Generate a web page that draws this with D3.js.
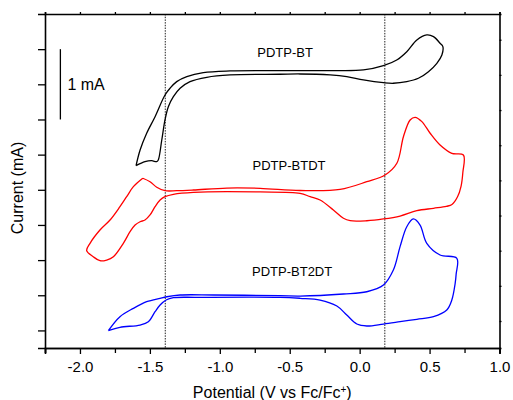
<!DOCTYPE html>
<html><head><meta charset="utf-8">
<script src="https://cdn.jsdelivr.net/npm/d3@7"></script>
<style>
html,body{margin:0;padding:0;background:#fff;}
text{font-family:Arial,"Liberation Sans",sans-serif;fill:#000;}
</style></head>
<body>
<svg id="chart" width="513" height="400"></svg>
<script>
// Potential (V vs Fc/Fc+) and current (mA, offset) for each cyclic voltammogram
const btV = [-1.599,-1.570,-1.523,-1.463,-1.392,-1.356,-1.308,-1.236,-1.118,-0.927,-0.569,-0.211,0.027,0.170,0.265,0.337,0.409,0.480,0.528,0.575,0.595,0.588,0.552,0.492,0.420,0.337,0.241,0.170,0.027,-0.092,-0.211,-0.426,-0.569,-0.927,-1.093,-1.213,-1.284,-1.332,-1.368,-1.392,-1.415,-1.440,-1.451,-1.487,-1.535,-1.599];
const btI = [2.343,2.566,2.804,3.040,3.348,3.444,3.538,3.609,3.666,3.690,3.694,3.695,3.704,3.765,3.846,3.964,4.131,4.202,4.178,4.084,4.036,3.917,3.799,3.680,3.586,3.538,3.515,3.523,3.562,3.609,3.633,3.647,3.643,3.633,3.600,3.538,3.444,3.324,3.182,2.993,2.708,2.424,2.400,2.414,2.400,2.343];

const btdtV = [-1.551,-1.499,-1.451,-1.392,-1.308,-1.189,-0.950,-0.712,-0.426,-0.140,0.051,0.182,0.266,0.313,0.361,0.397,0.445,0.504,0.575,0.659,0.742,0.738,0.725,0.700,0.660,0.620,0.528,0.409,0.289,0.170,0.051,-0.068,-0.116,-0.188,-0.283,-0.354,-0.426,-0.712,-1.189,-1.332,-1.392,-1.427,-1.463,-1.499,-1.535,-1.570,-1.606,-1.642,-1.690,-1.761,-1.809,-1.857,-1.905,-1.952,-1.928,-1.857,-1.785,-1.714,-1.666,-1.618,-1.551];
const btdtI = [2.164,2.115,2.036,1.987,1.987,1.997,2.025,2.021,1.990,2.005,2.115,2.211,2.377,2.755,2.993,3.031,2.969,2.804,2.637,2.519,2.495,2.250,2.050,1.900,1.790,1.765,1.737,1.703,1.627,1.585,1.560,1.560,1.595,1.713,1.855,1.902,1.950,1.969,1.964,1.936,1.902,1.855,1.760,1.642,1.570,1.546,1.499,1.404,1.239,1.048,1.001,0.991,1.048,1.134,1.239,1.428,1.570,1.760,1.902,2.044,2.164];

const bt2dtV = [-1.797,-1.714,-1.618,-1.523,-1.427,-1.379,-1.284,-1.046,-0.569,-0.426,-0.116,0.051,0.170,0.241,0.289,0.337,0.384,0.432,0.480,0.575,0.695,0.690,0.683,0.659,0.623,0.528,0.409,0.289,0.170,0.051,-0.020,-0.092,-0.163,-0.283,-0.426,-0.569,-1.165,-1.332,-1.384,-1.427,-1.463,-1.511,-1.570,-1.714,-1.797];
const bt2dtI = [-0.004,0.195,0.314,0.408,0.457,0.479,0.504,0.504,0.494,0.489,0.518,0.550,0.646,0.859,1.191,1.475,1.585,1.499,1.239,1.073,1.026,0.800,0.670,0.432,0.290,0.195,0.158,0.124,0.091,0.063,0.091,0.219,0.347,0.432,0.457,0.471,0.471,0.465,0.432,0.361,0.266,0.124,0.077,0.044,-0.004];

const seriesNames = ["PDTP-BT","PDTP-BTDT","PDTP-BT2DT"];
const seriesColors = ["#000000","#ff0000","#0000ff"];
const labelV = [-0.533,-0.505,-0.483];
const labelI = [3.95,2.343,0.835];

const xTicks = [-2.0,-1.5,-1.0,-0.5,0.0,0.5,1.0];
const xMinorTicks = [-2.25,-1.75,-1.25,-0.75,-0.25,0.25,0.75];
const yTicks = [0,0.5,1.0,1.5,2.0,2.5,3.0,3.5,4.0];
const yRightTicks = [0.134,0.634,1.134,1.634,2.134,2.634,3.134,3.634,4.134];
const refLinesV = [-1.39,0.18];
const scaleBarV = -2.14, scaleBarI = [3.0,4.0], scaleBarLabel = "1 mA";

const svg = d3.select("#chart");
const x = d3.scaleLinear().domain([-2.25,1.0]).range([45,499.5]);
const y = d3.scaleLinear().domain([-0.25,4.5]).range([348,14]);

const [x0,x1] = x.range(), [y0,y1] = y.range();

// reference dotted lines
svg.selectAll("line.ref").data(refLinesV).join("line")
  .attr("x1",d=>x(d)).attr("x2",d=>x(d)).attr("y1",y1).attr("y2",y0)
  .attr("stroke","#222").attr("stroke-width",1).attr("stroke-dasharray","1.5,1.2");

// curves
const lineGen = d3.line().x(d=>x(d[0])).y(d=>y(d[1])).curve(d3.curveCatmullRom.alpha(0.5));
const series = [[btV,btI],[btdtV,btdtI],[bt2dtV,bt2dtI]];
series.forEach((s,i)=>{
  const pts = s[0].map((v,k)=>[v,s[1][k]]);
  svg.append("path").datum(pts).attr("d",lineGen)
    .attr("fill","none").attr("stroke",seriesColors[i]).attr("stroke-width",1.3)
    .attr("stroke-linejoin","round");
});

// series labels
svg.selectAll("text.lab").data(seriesNames).join("text")
  .attr("x",(d,i)=>x(labelV[i])).attr("y",(d,i)=>y(labelI[i]))
  .attr("text-anchor","middle").attr("dominant-baseline","central")
  .attr("font-size","13px").text(d=>d);

// scale bar
svg.append("line").attr("x1",x(scaleBarV)).attr("x2",x(scaleBarV))
  .attr("y1",y(scaleBarI[0])).attr("y2",y(scaleBarI[1]))
  .attr("stroke","#000").attr("stroke-width",1.3);
svg.append("text").attr("x",x(scaleBarV)+7).attr("y",y((scaleBarI[0]+scaleBarI[1])/2))
  .attr("dominant-baseline","central").attr("font-size","16px").text(scaleBarLabel);

// axes
const gBottom = svg.append("g").attr("transform",`translate(0,${y0})`)
  .call(d3.axisBottom(x).tickValues(xTicks).tickSize(6).tickPadding(7).tickFormat(d=>d3.format(".1f")(d).replace("\u2212","-")));
gBottom.selectAll("text").attr("font-size","15px").attr("font-family","Arial, 'Liberation Sans', sans-serif");
svg.append("g").attr("transform",`translate(0,${y0})`)
  .call(d3.axisBottom(x).tickValues(xMinorTicks).tickSize(5).tickFormat(""));
svg.append("g").attr("transform",`translate(0,${y1})`)
  .call(d3.axisTop(x).tickValues(xTicks.concat(xMinorTicks)).tickSize(2).tickFormat(""));
svg.append("g").attr("transform",`translate(${x0},0)`)
  .call(d3.axisLeft(y).tickValues(yTicks).tickSize(7).tickFormat(""));
svg.append("g").attr("transform",`translate(${x1},0)`)
  .call(d3.axisRight(y).tickValues(yRightTicks).tickSize(2).tickFormat(""));
svg.selectAll(".domain").attr("stroke","#000").attr("stroke-width",1.6);
svg.selectAll(".tick line").attr("stroke","#000").attr("stroke-width",1.3);

// axis titles
const xt = svg.append("text").attr("x",(x0+x1)/2).attr("y",398)
  .attr("text-anchor","middle").attr("font-size","16px");
xt.append("tspan").text("Potential (V vs Fc/Fc");
xt.append("tspan").attr("baseline-shift","super").attr("font-size","10px").text("+");
xt.append("tspan").text(")");
svg.append("text").attr("transform",`translate(23,${(y0+y1)/2+7}) rotate(-90)`)
  .attr("text-anchor","middle").attr("font-size","16px").text("Current (mA)");
</script>
</body></html>
